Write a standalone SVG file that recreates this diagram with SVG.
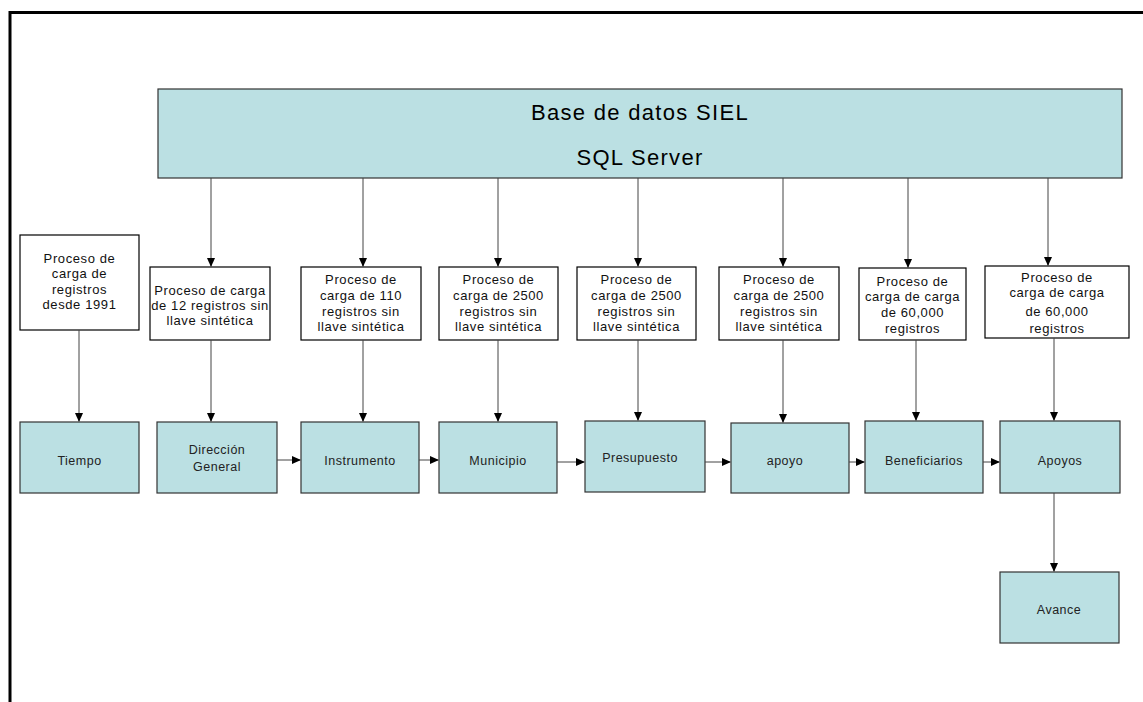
<svg xmlns="http://www.w3.org/2000/svg" width="1143" height="702" viewBox="0 0 1143 702">
<style>
.frame{stroke:#000;stroke-width:3;fill:none}
.teal{fill:#BBE0E3;stroke:#333;stroke-width:1.2}
.white{fill:#fff;stroke:#000;stroke-width:1.2}
.t{font-family:"Liberation Sans",Arial,sans-serif;font-size:13px;letter-spacing:0.6px;fill:#111;text-anchor:middle}
.l{font-family:"Liberation Sans",Arial,sans-serif;font-size:12.5px;letter-spacing:0.5px;fill:#222;text-anchor:middle}
.big{font-family:"Liberation Sans",Arial,sans-serif;font-size:22px;letter-spacing:1.3px;fill:#000;text-anchor:middle}
.c{stroke:#444;stroke-width:1;fill:none;marker-end:url(#ah)}
</style>
<defs>
<marker id="ah" markerWidth="9" markerHeight="8" refX="8" refY="4" orient="auto" markerUnits="userSpaceOnUse">
<path d="M0,0 L9,4 L0,8 Z" fill="#000"/>
</marker>
</defs>
<rect width="1143" height="702" fill="#fff"/>
<path class="frame" d="M10,702 L10,12.5 L1143,12.5"/>

<g id="db">
<rect class="teal" x="158" y="89" width="964" height="89"/>
<text class="big" x="640" y="120">Base de datos SIEL</text>
<text class="big" x="640" y="165">SQL Server</text>
</g>

<g id="p0"><rect class="white" x="20" y="235" width="119" height="95"/>
<text class="t" x="79.5" y="263">Proceso de</text><text class="t" x="79.5" y="278">carga de</text><text class="t" x="79.5" y="294">registros</text><text class="t" x="79.5" y="309">desde 1991</text></g>
<g id="p1"><rect class="white" x="150" y="267" width="120" height="73"/>
<text class="t" x="210" y="295">Proceso de carga</text><text class="t" x="210" y="310">de 12 registros sin</text><text class="t" x="210" y="325">llave sintética</text></g>
<g id="p2"><rect class="white" x="301" y="267" width="120" height="73"/>
<text class="t" x="361" y="284">Proceso de</text><text class="t" x="361" y="300">carga de 110</text><text class="t" x="361" y="316">registros sin</text><text class="t" x="361" y="331">llave sintética</text></g>
<g id="p3"><rect class="white" x="439" y="267" width="119" height="73"/>
<text class="t" x="498.5" y="284">Proceso de</text><text class="t" x="498.5" y="300">carga de 2500</text><text class="t" x="498.5" y="316">registros sin</text><text class="t" x="498.5" y="331">llave sintética</text></g>
<g id="p4"><rect class="white" x="577" y="267" width="119" height="73"/>
<text class="t" x="636.5" y="284">Proceso de</text><text class="t" x="636.5" y="300">carga de 2500</text><text class="t" x="636.5" y="316">registros sin</text><text class="t" x="636.5" y="331">llave sintética</text></g>
<g id="p5"><rect class="white" x="719" y="267" width="120" height="73"/>
<text class="t" x="779" y="284">Proceso de</text><text class="t" x="779" y="300">carga de 2500</text><text class="t" x="779" y="316">registros sin</text><text class="t" x="779" y="331">llave sintética</text></g>
<g id="p6"><rect class="white" x="859" y="268" width="107" height="72"/>
<text class="t" x="912.5" y="286">Proceso de</text><text class="t" x="912.5" y="301">carga de carga</text><text class="t" x="912.5" y="317">de 60,000</text><text class="t" x="912.5" y="333">registros</text></g>
<g id="p7"><rect class="white" x="985" y="266" width="144" height="72"/>
<text class="t" x="1057" y="282">Proceso de</text><text class="t" x="1057" y="297">carga de carga</text><text class="t" x="1057" y="316">de 60,000</text><text class="t" x="1057" y="333">registros</text></g>

<g id="tiempo"><rect class="teal" x="20" y="422" width="119" height="71"/><text class="l" x="79.5" y="465">Tiempo</text></g>
<g id="direccion"><rect class="teal" x="157" y="422" width="120" height="71"/><text class="l" x="217" y="454">Dirección</text><text class="l" x="217" y="471">General</text></g>
<g id="instrumento"><rect class="teal" x="301" y="422" width="118" height="71"/><text class="l" x="360" y="465">Instrumento</text></g>
<g id="municipio"><rect class="teal" x="439" y="422" width="118" height="71"/><text class="l" x="498" y="465">Municipio</text></g>
<g id="presupuesto"><rect class="teal" x="585" y="421" width="120" height="71"/><text class="l" x="640" y="462">Presupuesto</text></g>
<g id="apoyo"><rect class="teal" x="731" y="423" width="118" height="70"/><text class="l" x="785" y="465">apoyo</text></g>
<g id="beneficiarios"><rect class="teal" x="865" y="421" width="118" height="72"/><text class="l" x="924" y="465">Beneficiarios</text></g>
<g id="apoyos"><rect class="teal" x="1000" y="421" width="120" height="72"/><text class="l" x="1060" y="465">Apoyos</text></g>
<g id="avance"><rect class="teal" x="1000" y="572" width="119" height="71"/><text class="l" x="1059" y="614">Avance</text></g>

<g id="connectors">
<line class="c" x1="211" y1="178" x2="211" y2="266"/>
<line class="c" x1="363" y1="178" x2="363" y2="266"/>
<line class="c" x1="498" y1="178" x2="498" y2="266"/>
<line class="c" x1="638" y1="178" x2="638" y2="266"/>
<line class="c" x1="783" y1="178" x2="783" y2="266"/>
<line class="c" x1="908" y1="178" x2="908" y2="267"/>
<line class="c" x1="1048" y1="178" x2="1048" y2="265"/>

<line class="c" x1="79" y1="330" x2="79" y2="421"/>
<line class="c" x1="211" y1="340" x2="211" y2="421"/>
<line class="c" x1="363" y1="340" x2="363" y2="421"/>
<line class="c" x1="498" y1="340" x2="498" y2="421"/>
<line class="c" x1="638" y1="340" x2="638" y2="420"/>
<line class="c" x1="783" y1="340" x2="783" y2="422"/>
<line class="c" x1="916" y1="340" x2="916" y2="420"/>
<line class="c" x1="1054" y1="338" x2="1054" y2="420"/>
<line class="c" x1="1054" y1="493" x2="1054" y2="571"/>

<line class="c" x1="277" y1="460" x2="300" y2="460"/>
<line class="c" x1="419" y1="460" x2="438" y2="460"/>
<line class="c" x1="557" y1="462" x2="584" y2="462"/>
<line class="c" x1="705" y1="462" x2="730" y2="462"/>
<line class="c" x1="849" y1="462" x2="864" y2="462"/>
<line class="c" x1="983" y1="462" x2="999" y2="462"/>
</g>
</svg>
